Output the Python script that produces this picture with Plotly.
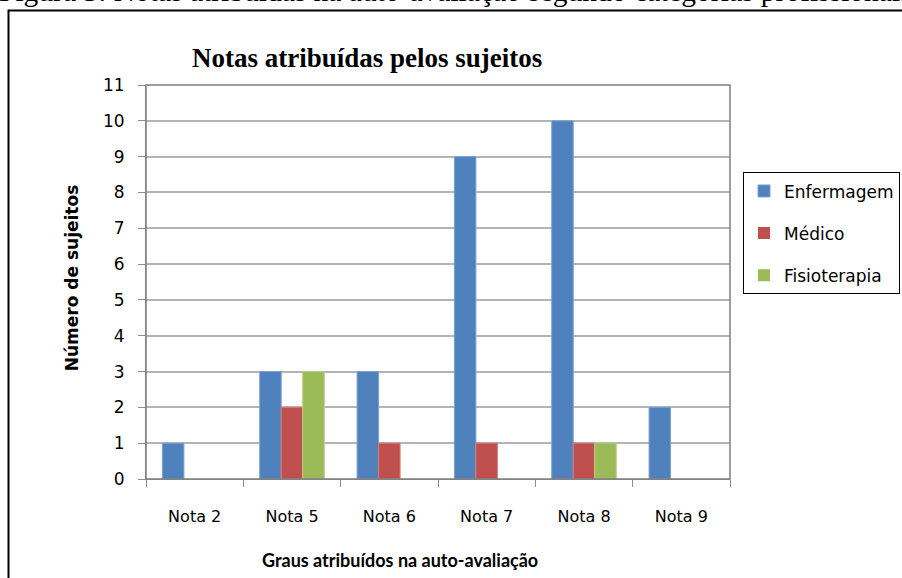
import plotly.graph_objects as go

categories = ["Nota 2", "Nota 5", "Nota 6", "Nota 7", "Nota 8", "Nota 9"]
enfermagem = [1, 3, 3, 9, 10, 2]
medico = [0, 2, 1, 1, 1, 0]
fisioterapia = [0, 3, 0, 0, 1, 0]
series_names = ["Enfermagem", "Médico", "Fisioterapia"]
colors = ["#4F81BD", "#C0504D", "#9BBB59"]
edge_colors = ["#7DA2D0", "#D27C79", "#B7CF85"]

W, H = 902, 578
L, R, T, B = 146, 730, 84.5, 479

def px(x):
    return (x - L) / (R - L)

def py(y):
    return (B - y) / (B - T)

SANS = "DejaVu Sans, sans-serif"

fig = go.Figure()
for name, vals, c, ec in zip(series_names, [enfermagem, medico, fisioterapia], colors, edge_colors):
    fig.add_trace(go.Bar(
        x=categories, y=vals, name=name, legendgroup=name,
        marker=dict(color=c, line=dict(color=ec, width=[1 if v > 0 else 0 for v in vals])),
    ))

fig.update_layout(
    width=W, height=H,
    margin=dict(l=L, r=W - R, t=T, b=H - B, pad=0, autoexpand=False),
    paper_bgcolor="white", plot_bgcolor="white",
    barmode="group", bargap=0.337, bargroupgap=0,
    font=dict(family=SANS, color="#000000"),
    showlegend=True,
    legend=dict(
        x=px(743), y=py(172), xanchor="left", yanchor="top",
        bordercolor="#000000", borderwidth=1,
        font=dict(family=SANS, size=17, color="#000"),
        tracegroupgap=17, itemwidth=30,
    ),
    xaxis=dict(
        showgrid=False, showline=True, linecolor="#8C8C8C", linewidth=1,
        ticks="outside", ticklen=7, tickcolor="#8C8C8C", tickson="boundaries",
        tickfont=dict(size=16, family=SANS), ticklabelstandoff=23,
        mirror=False, automargin=False,
    ),
    yaxis=dict(
        range=[0, 11], dtick=1, tick0=0,
        showgrid=True, gridcolor="#B4B4B4", gridwidth=1.5,
        showline=True, linecolor="#8C8C8C", linewidth=1,
        ticks="outside", ticklen=7, tickcolor="#8C8C8C",
        tickfont=dict(size=17, family=SANS), ticklabelstandoff=10,
        zeroline=False, automargin=False,
    ),
)

# plot area border (top/right)
fig.add_shape(type="rect", xref="paper", yref="paper", x0=0, x1=1, y0=0, y1=1,
              line=dict(color="#7F7F7F", width=1.5), fillcolor="rgba(0,0,0,0)", layer="above")

# outer chart frame
fig.add_shape(type="rect", xref="paper", yref="paper",
              x0=px(8.5), x1=px(912), y0=py(590), y1=py(10),
              line=dict(color="#000000", width=2), fillcolor="rgba(0,0,0,0)", layer="above")

# title
fig.add_annotation(text="<b>Notas atribuídas pelos sujeitos</b>", xref="paper", yref="paper",
                   x=px(367), y=py(57), xanchor="center", yanchor="middle", showarrow=False,
                   font=dict(family="Liberation Serif, serif", size=27, color="#000"))
# y axis title
fig.add_annotation(text="<b>Número de sujeitos</b>", xref="paper", yref="paper",
                   x=px(72), y=py(278), xanchor="center", yanchor="middle", showarrow=False,
                   textangle=-90, font=dict(family=SANS, size=17, color="#000"))
# x axis title
fig.add_annotation(text="<b>Graus atribuídos na auto-avaliação</b>", xref="paper", yref="paper",
                   x=px(400), y=py(560), xanchor="center", yanchor="middle", showarrow=False,
                   font=dict(family="Lato, sans-serif", size=18, color="#000"))
# cut-off caption at top of page
fig.add_annotation(text="Figura 3: Notas atribuídas na auto-avaliação segundo categorias profissionais",
                   xref="paper", yref="paper", x=px(-3), y=py(-10), xanchor="left", yanchor="middle",
                   showarrow=False, font=dict(family="Liberation Serif, serif", size=29.5, color="#000"))

fig.write_html("out.html", config={"displayModeBar": False},
               post_script="document.body.style.margin='0';document.body.style.overflow='hidden';")
